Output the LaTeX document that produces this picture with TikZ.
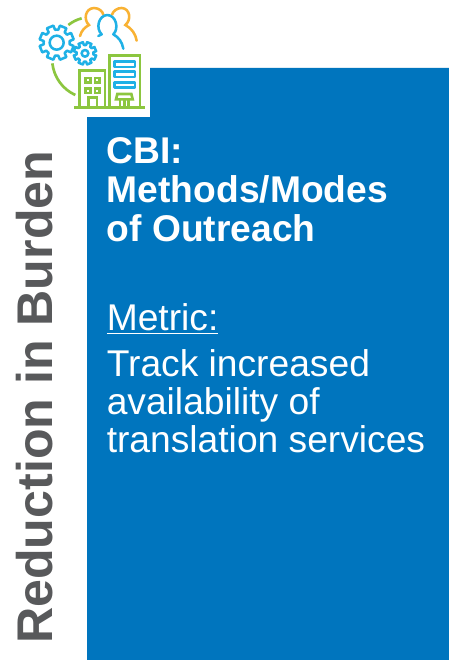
\documentclass[tikz,border=0pt]{standalone}
\usepackage{fontspec}
\setmainfont{Liberation Sans}
\definecolor{panelblue}{HTML}{0075BE}
\definecolor{labelgrey}{HTML}{58595B}
\definecolor{iconblue}{HTML}{1FB1E6}
\definecolor{icongreen}{HTML}{8CC63F}
\definecolor{iconorange}{HTML}{F9B233}
\tikzset{
  panel/.style={fill=panelblue,draw=none},
  paneltext/.style={text=white,anchor=north west,inner sep=0pt,align=left,font=\fontsize{27.9}{29.25}\selectfont},
  sidelabel/.style={text=labelgrey,rotate=90,anchor=base west,inner sep=0pt,font=\fontsize{37.6}{40}\selectfont\bfseries},
  ib/.style={draw=iconblue,line width=1.9pt,line join=round,line cap=round},
  ig/.style={draw=icongreen,line width=2pt,line join=miter},
  io/.style={draw=iconorange,line width=1.9pt,line cap=round},
}
\newcommand{\cogicon}[5]{% cx cy outer inner hole (zoom units)
  \draw[ib,shift={(#1,#2)}] (0:#4)
    \foreach \a in {0,45,...,315}{
      -- ({\a+7}:#4) -- ({\a+11}:#3) -- ({\a+34}:#3) -- ({\a+38}:#4) -- ({\a+45}:#4)
    } -- cycle;
  \draw[ib] (#1,#2) circle[radius=#5];
}
\begin{document}
\begin{tikzpicture}[x=0.75pt,y=-0.75pt]
\useasboundingbox (0,0) rectangle (449,660);
\fill[white] (0,0) rectangle (449,660);
\fill[panel] (150,68) -- (449,68) -- (449,660) -- (87,660) -- (87,117) -- (150,117) -- cycle;
\node[sidelabel] (side) at (52,644) {Reduction in Burden};
\node[paneltext] (title) at (106.5,137.5) {\bfseries CBI:\\\bfseries Methods/Modes\\\bfseries of Outreach};
\node[paneltext] (metric) at (106.5,303) {\vtop{\hbox{Metric:}\kern1.7pt\hrule height 1.2pt}};
\node[paneltext,font=\fontsize{27.9}{28.5}\selectfont] (body) at (106.5,349) {Track increased\\availability of\\translation services};
% icon, drawn in the coordinates of a 3x crop at (20,0)
\begin{scope}[shift={(20,0)},x=0.25pt,y=-0.25pt]
  \draw[ig] (145,75) .. controls (158,65) and (170,59) .. (185,55);
  \draw[ig] (97,190) .. controls (102,232) and (128,268) .. (166,285);
  \draw[io] (180,108) .. controls (185,90) and (195,82) .. (207,75) .. controls (190,60) and (195,25) .. (222,24) .. controls (238,24) and (248,35) .. (250,44);
  \draw[io] (276,44) .. controls (280,32) and (292,24) .. (305,24) .. controls (330,25) and (335,60) .. (316,75) .. controls (335,85) and (347,102) .. (350,122);
  \draw[ib] (310,146) .. controls (306,125) and (296,112) .. (280,103) .. controls (298,85) and (288,46) .. (262,45) .. controls (236,46) and (226,85) .. (245,103) -- (235,108);
  \cogicon{110}{128}{52}{39}{21}
  \cogicon{195}{160}{34}{25}{10}
  % left building
  \draw[ig] (178,322) -- (178,212) -- (255,212) -- (255,322);
  \foreach \wx/\wy in {197/234,225/234,197/265,225/265}
    \draw[ig] (\wx,\wy) rectangle ++(14,14);
  \draw[ig] (205,322) -- (205,293) -- (231,293) -- (231,322);
  % right building
  \draw[ig] (268,322) -- (268,167) -- (360,167) -- (360,322);
  \foreach \sy in {185,215,247}
    \draw[ib] (283,\sy) rectangle ++(62,16);
  \draw[ig] (288,298) -- (292,282) -- (334,282) -- (338,298) -- cycle;
  \draw[ig] (300,298) -- (300,322) (313,298) -- (313,322) (326,298) -- (326,322);
  \draw[ig] (162,323) -- (375,323);
\end{scope}
\end{tikzpicture}
\end{document}
